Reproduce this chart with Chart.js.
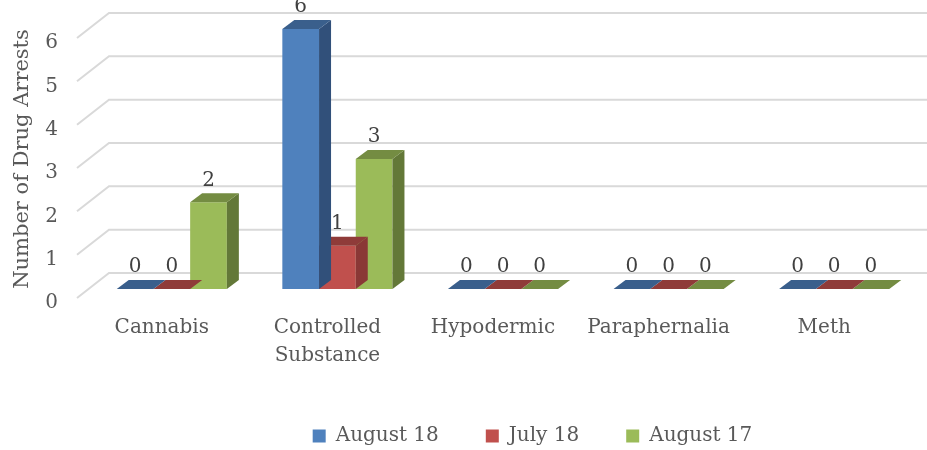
<!DOCTYPE html>
<html lang="en">
<head>
<meta charset="UTF-8">
<title>Number of Drug Arrests</title>
<script src="https://cdn.jsdelivr.net/npm/chart.js"></script>
<style>
  html, body { margin: 0; padding: 0; background: #fff; }
</style>
</head>
<body>
<canvas id="arrestsChart" width="927" height="450"></canvas>
<script>
// data
const categories = ['Cannabis', ['Controlled', 'Substance'], 'Hypodermic', 'Paraphernalia', 'Meth'];
const seriesNames = ['August 18', 'July 18', 'August 17'];
const august18 = [0, 6, 0, 0, 0];
const july18 = [0, 1, 0, 0, 0];
const august17 = [2, 3, 0, 0, 0];
const yTicks = [0, 1, 2, 3, 4, 5, 6];

// front / top / side colours of the 3D bars
const faceColors = [
  { front: '#4F81BD', top: '#3A5F8C', side: '#31507A' },
  { front: '#C0504D', top: '#8F3B39', side: '#8A3836' },
  { front: '#9BBB59', top: '#748C42', side: '#637838' }
];
const depthX = 12, depthY = 9;
const fontName = "'DejaVu Serif', serif";

// back wall gridlines with the slanted floor edge
const grid3d = {
  id: 'grid3d',
  beforeDatasetsDraw(chart) {
    const { ctx, chartArea, scales } = chart;
    ctx.save();
    ctx.strokeStyle = '#d9d9d9';
    ctx.lineWidth = 2;
    yTicks.forEach(v => {
      const y = scales.y.getPixelForValue(v);
      ctx.beginPath();
      ctx.moveTo(chartArea.left - 12, y + 9);
      ctx.lineTo(chartArea.left + 20, y - 16);
      ctx.lineTo(chart.width, y - 16);
      ctx.stroke();
    });
    ctx.restore();
  }
};

// top and side faces, drawn after each series so the next one covers them
const bars3d = {
  id: 'bars3d',
  afterDatasetDraw(chart, args) {
    const { ctx } = chart;
    const c = faceColors[args.index];
    ctx.save();
    args.meta.data.forEach(bar => {
      const { x, y, base, width } = bar.getProps(['x', 'y', 'base', 'width'], true);
      const l = x - width / 2, r = x + width / 2;
      ctx.fillStyle = c.side;
      ctx.beginPath();
      ctx.moveTo(r, y);
      ctx.lineTo(r + depthX, y - depthY);
      ctx.lineTo(r + depthX, base - depthY);
      ctx.lineTo(r, base);
      ctx.closePath();
      ctx.fill();
      ctx.fillStyle = c.top;
      ctx.beginPath();
      ctx.moveTo(l, y);
      ctx.lineTo(r, y);
      ctx.lineTo(r + depthX, y - depthY);
      ctx.lineTo(l + depthX, y - depthY);
      ctx.closePath();
      ctx.fill();
    });
    ctx.restore();
  }
};

// value labels above the bars
const valueLabels = {
  id: 'valueLabels',
  afterDatasetsDraw(chart) {
    const { ctx } = chart;
    ctx.save();
    ctx.font = '20px ' + fontName;
    ctx.fillStyle = '#404040';
    ctx.textAlign = 'center';
    ctx.textBaseline = 'middle';
    chart.data.datasets.forEach((ds, i) => {
      chart.getDatasetMeta(i).data.forEach((bar, j) => {
        ctx.fillText(String(ds.data[j]), bar.x, bar.y - 22);
      });
    });
    ctx.restore();
  }
};

// legend sits centred under the plot, not under the whole canvas
const legendShift = {
  id: 'legendShift',
  afterLayout(chart) {
    chart.legend.left += 74;
    chart.legend.right += 74;
  }
};

new Chart(document.getElementById('arrestsChart'), {
  type: 'bar',
  data: {
    labels: categories,
    datasets: [august18, july18, august17].map((vals, i) => ({
      label: seriesNames[i],
      data: vals,
      backgroundColor: faceColors[i].front,
      borderWidth: 0,
      categoryPercentage: 0.665,
      barPercentage: 1
    }))
  },
  options: {
    responsive: false,
    animation: false,
    events: [],
    layout: { padding: { top: 29, right: 10, left: 0, bottom: -6 } },
    scales: {
      x: {
        grid: { display: false, drawTicks: false },
        border: { display: false },
        ticks: {
          color: '#595959',
          font: { family: fontName, size: 20, lineHeight: 1.4 },
          padding: 25,
          labelOffset: -10,
          maxRotation: 0,
          autoSkip: false
        },
        afterFit(scale) { scale.height = 90; }
      },
      y: {
        min: 0,
        max: 6,
        grid: { display: false, drawTicks: false },
        border: { display: false },
        afterBuildTicks(scale) { scale.ticks = yTicks.map(v => ({ value: v })); },
        ticks: {
          color: '#595959',
          font: { family: fontName, size: 20 },
          padding: 31,
          labelOffset: 14
        },
        title: {
          display: true,
          text: 'Number of Drug Arrests',
          color: '#595959',
          font: { family: fontName, size: 21 },
          padding: { top: 10, bottom: 0 }
        },
        afterFit(scale) {
          scale.width = 89;
          scale.paddingTop = 0;
          scale.paddingBottom = 0;
        }
      }
    },
    plugins: {
      tooltip: { enabled: false },
      legend: {
        position: 'bottom',
        labels: {
          boxWidth: 13,
          boxHeight: 13,
          padding: 47,
          color: '#595959',
          font: { family: fontName, size: 20 }
        }
      }
    }
  },
  plugins: [grid3d, bars3d, valueLabels, legendShift]
});
</script>
</body>
</html>
